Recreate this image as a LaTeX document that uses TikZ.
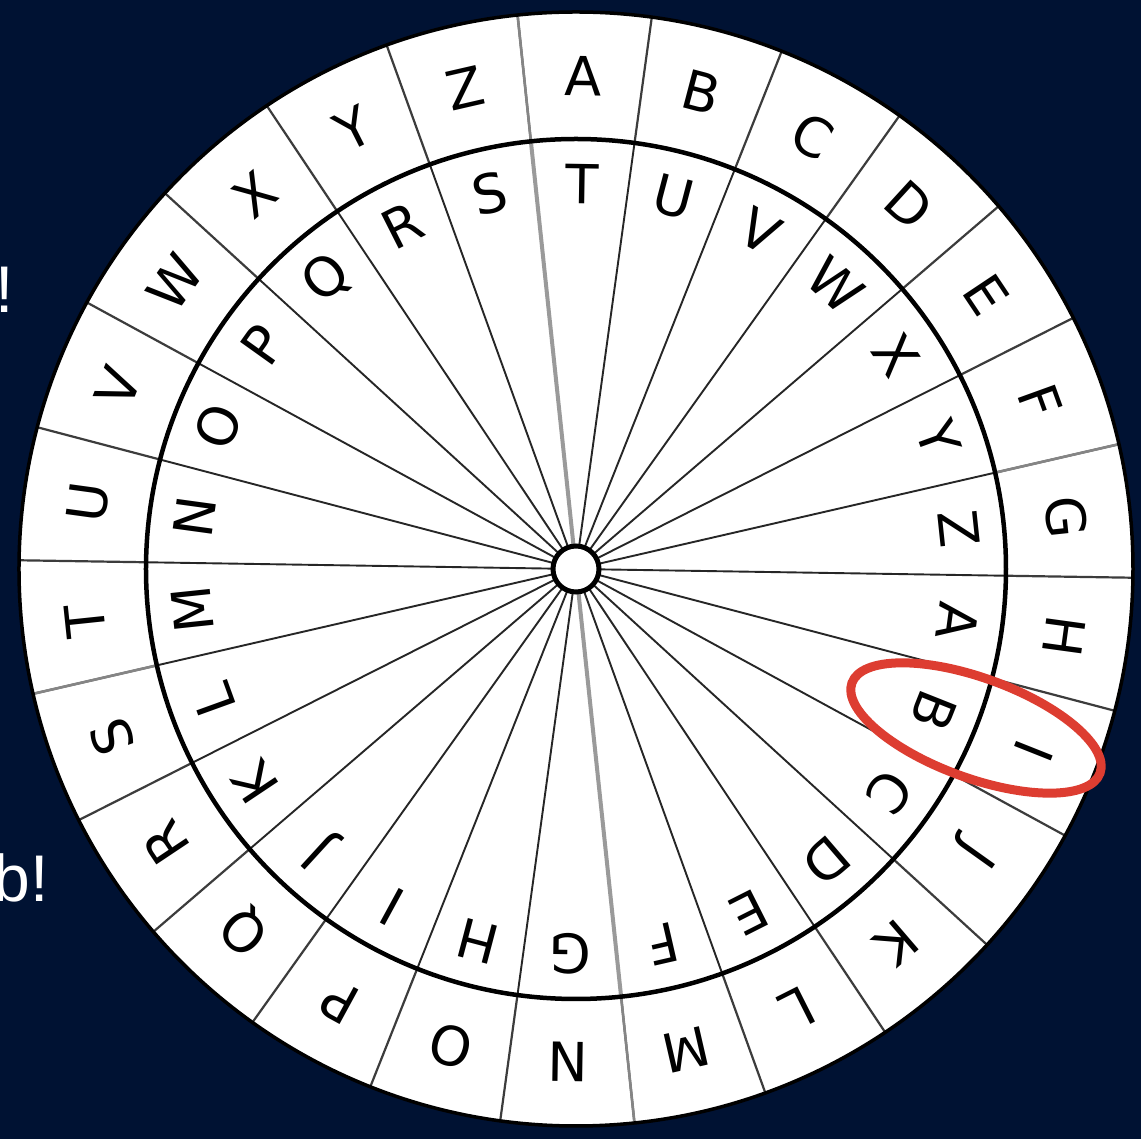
\documentclass[tikz,border=0pt]{standalone}
\usepackage{fontspec}
\newfontfamily\wheelfont{DejaVu Sans}
\newfontfamily\slidefont{Liberation Sans}
\definecolor{navybg}{HTML}{001233}
\definecolor{ringred}{RGB}{221,61,49}
\definecolor{divdark}{HTML}{3C3C3C}
\definecolor{divlight}{HTML}{858585}
\definecolor{axisgray}{HTML}{9A9A9A}
\tikzset{
  wheelletter/.style={font=\wheelfont\fontsize{54}{54}\selectfont, text=black, inner sep=0pt,
    text height=39pt, text depth=0pt, anchor=center},
  slidetext/.style={font=\slidefont\fontsize{66}{66}\selectfont, text=white, inner sep=0pt, anchor=base east},
  outerdiv/.style={draw=divdark, line width=2.2pt},
  outerdivlight/.style={draw=divlight, line width=2.6pt},
  innerdiv/.style={draw=black!85, line width=1.9pt},
  axisline/.style={draw=axisgray, line width=4pt},
  rimline/.style={draw=black, line width=3.5pt},
  discline/.style={draw=black, line width=4.5pt},
  hubline/.style={draw=black, line width=5pt, fill=white},
  markring/.style={draw=ringred, line width=9pt}
}
\begin{document}
\begin{tikzpicture}[x=1pt,y=1pt]
\fill[navybg] (-576,-570) rectangle (565,569);
\useasboundingbox (-576,-570) rectangle (565,569);
% partially hidden slide text
\node[slidetext] (txtA) at (-562,256) {!};
\node[slidetext] (txtB) at (-527,-333) {b!};
% wheel body
\fill[white] (0,0) circle (557);
% outer ring dividers
\foreach \k in {0,...,25} {
  \pgfmathsetmacro\ang{96.023-\k*13.846}
  \draw[outerdiv] (\ang:430) -- (\ang:557);
}
\foreach \k in {0,6,13,19} {
  \pgfmathsetmacro\ang{96.023-\k*13.846}
  \draw[outerdivlight] (\ang:430) -- (\ang:557);
}
% inner disc dividers
\foreach \k in {1,...,12,14,15,...,25} {
  \pgfmathsetmacro\ang{96.023-\k*13.846}
  \draw[innerdiv] (\ang:24) -- (\ang:430);
}
\draw[axisline] (96.023:430) -- (276.023:430);
% outer letters
\foreach \L [count=\n from 0] in {A,B,C,D,E,F,G,H,I,J,K,L,M,N,O,P,Q,R,S,T,U,V,W,X,Y,Z} {
  \pgfmathsetmacro\ang{89.1-\n*13.846}
  \node[wheelletter, rotate=\ang-90] (o\n) at (\ang:493) {\L};
}
% inner letters (shift: inner T under outer A)
\foreach \L [count=\n from 0] in {A,B,C,D,E,F,G,H,I,J,K,L,M,N,O,P,Q,R,S,T,U,V,W,X,Y,Z} {
  \pgfmathsetmacro\ang{89.1-(\n+7)*13.846}
  \node[wheelletter, rotate=\ang-90] (i\n) at (\ang:385) {\L};
}
% circles
\draw[discline] (0,0) circle (430);
\draw[rimline] (0,0) circle (557);
\draw[hubline] (0,0) circle (23);
% red highlight
\draw[markring, rotate around={-20:(400,-159)}] (400,-159) ellipse [x radius=132, y radius=50];
\end{tikzpicture}
\end{document}
